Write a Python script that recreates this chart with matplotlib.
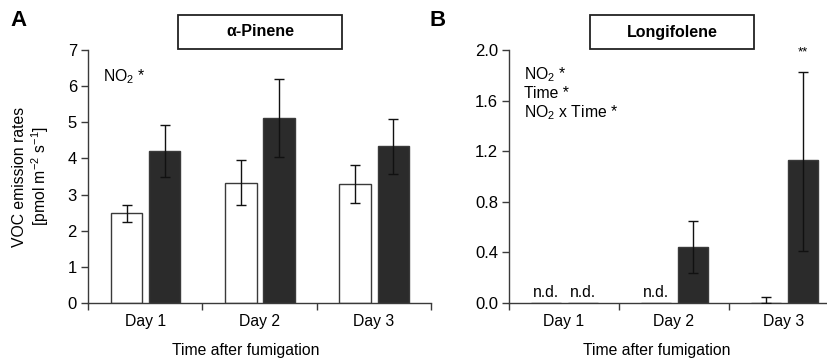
import matplotlib.pyplot as plt
from matplotlib.patches import Rectangle
from matplotlib.ticker import FormatStrFormatter
import numpy as np

plt.rcParams['font.family'] = ['Liberation Sans', 'DejaVu Sans']
plt.rcParams['mathtext.default'] = 'regular'

days = ['Day 1', 'Day 2', 'Day 3']

# alpha-pinene: white = control, dark = NO2
pin_ctrl = [2.48, 3.31, 3.29]
pin_ctrl_lo = [2.23, 2.70, 2.78]
pin_ctrl_hi = [2.72, 3.97, 3.83]
pin_no2 = [4.21, 5.13, 4.35]
pin_no2_lo = [3.48, 4.05, 3.56]
pin_no2_hi = [4.93, 6.20, 5.10]

# longifolene (nan = not detected)
lon_ctrl = [np.nan, np.nan, 0.0]
lon_ctrl_lo = [np.nan, np.nan, 0.0]
lon_ctrl_hi = [np.nan, np.nan, 0.045]
lon_no2 = [np.nan, 0.445, 1.13]
lon_no2_lo = [np.nan, 0.235, 0.41]
lon_no2_hi = [np.nan, 0.65, 1.83]

dark = '#2b2b2b'
line = '#3a3a3a'
W, H = 828, 360
fs = 11.3


def bars(ax, vals, lo, hi, x, face):
    vals = np.array(vals)
    err = np.array([vals - np.array(lo), np.array(hi) - vals])
    ax.bar(x, np.nan_to_num(vals), width=0.275, color=face, edgecolor=line,
           linewidth=1.0, zorder=2)
    ax.errorbar(x, vals, yerr=err, fmt='none', ecolor='#111111', elinewidth=1.0,
                capsize=3.8, capthick=1.0, zorder=3)


def style(ax, ymax, yticks, fmt):
    x = np.arange(3)
    ax.set_xlim(-0.5, 2.5)
    ax.set_ylim(0, ymax)
    ax.set_yticks(yticks)
    ax.yaxis.set_major_formatter(FormatStrFormatter(fmt))
    ax.set_xticks([-0.5, 0.5, 1.5, 2.5])
    ax.set_xticklabels([])
    ax.set_xticks(x, minor=True)
    ax.set_xticklabels(days, minor=True)
    ax.tick_params(axis='x', which='minor', length=0, pad=8, labelsize=fs)
    ax.tick_params(axis='x', which='major', length=5, width=1.0, color=line)
    ax.tick_params(axis='y', length=5, width=1.0, color=line, pad=3, labelsize=12)
    for s in ['top', 'right']:
        ax.spines[s].set_visible(False)
    for s in ['left', 'bottom']:
        ax.spines[s].set_color(line)
        ax.spines[s].set_linewidth(1.0)


fig = plt.figure(figsize=(8.28, 3.6), dpi=100)
axA = fig.add_axes([88 / W, 1 - 303 / H, 343 / W, 253 / H])
axB = fig.add_axes([509 / W, 1 - 303 / H, 330 / W, 253 / H])

x = np.arange(3)
bars(axA, pin_ctrl, pin_ctrl_lo, pin_ctrl_hi, x - 0.163, 'white')
bars(axA, pin_no2, pin_no2_lo, pin_no2_hi, x + 0.17, dark)
style(axA, 7, range(0, 8), '%d')

bars(axB, lon_ctrl, lon_ctrl_lo, lon_ctrl_hi, x - 0.163, 'white')
bars(axB, lon_no2, lon_no2_lo, lon_no2_hi, x + 0.17, dark)
style(axB, 2.0, [0, 0.4, 0.8, 1.2, 1.6, 2.0], '%.1f')

axA.set_ylabel('VOC emission rates\n' + r'[pmol m$^{-2}$ s$^{-1}$]', fontsize=fs,
               linespacing=1.15)
axA.yaxis.set_label_coords((51 - 88) / 343, 0.5)
axA.set_xlabel('Time after fumigation', fontsize=fs)
axA.xaxis.set_label_coords((246 - 88) / 343, -0.16)
axB.set_xlabel('Time after fumigation', fontsize=fs)
axB.xaxis.set_label_coords((657 - 509) / 330, -0.16)

# panel letters and title boxes
fig.text(10 / W, 1 - 20 / H, 'A', fontsize=16, fontweight='bold', va='center')
fig.text(430 / W, 1 - 20 / H, 'B', fontsize=16, fontweight='bold', va='center')
for x0, x1, name in [(178, 342, 'α-Pinene'), (590, 754, 'Longifolene')]:
    fig.patches.append(Rectangle((x0 / W, 1 - 49 / H), (x1 - x0) / W, 34 / H,
                                 transform=fig.transFigure, fc='white',
                                 ec='#222222', lw=1.3))
    fig.text((x0 + x1) / 2 / W, 1 - 32 / H, name, fontsize=11.5, fontweight='bold',
             ha='center', va='center')

# statistics text
fig.text(103 / W, 1 - 77 / H, r'NO$_2$ *', fontsize=fs, va='center')
fig.text(524 / W, 1 - 75 / H, r'NO$_2$ *', fontsize=fs, va='center')
fig.text(524 / W, 1 - 93 / H, 'Time *', fontsize=fs, va='center')
fig.text(524 / W, 1 - 113 / H, r'NO$_2$ x Time *', fontsize=fs, va='center')
axB.text(2 + 0.17, 1.98, '**', fontsize=9.5, ha='center', va='center')
for xi in [0 - 0.163, 0 + 0.17, 1 - 0.163]:
    axB.text(xi, 0.025, 'n.d.', fontsize=fs, ha='center', va='bottom')

fig.savefig('out.png', dpi=100)
